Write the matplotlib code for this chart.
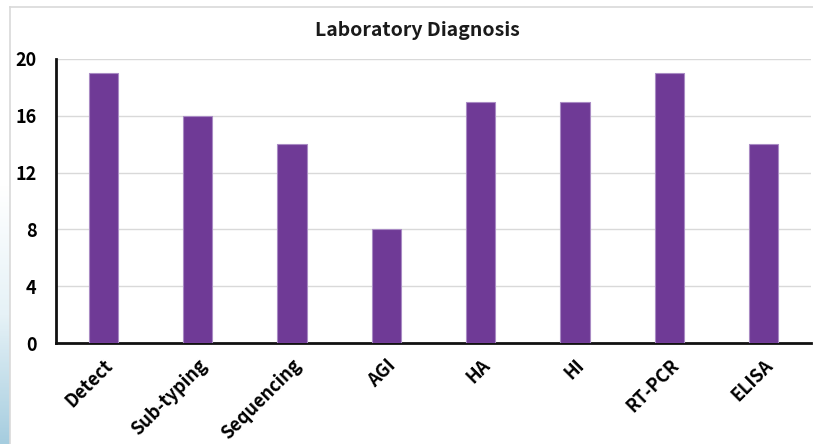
import numpy as np
import matplotlib
matplotlib.use("Agg")
import matplotlib.pyplot as plt

plt.rcParams['font.family'] = ['Noto Sans CJK JP', 'DejaVu Sans']

# Number of labs using each diagnostic method
methods = ['Detect', 'Sub-typing', 'Sequencing', 'AGI', 'HA', 'HI', 'RT-PCR', 'ELISA']
counts = [19, 16, 14, 8, 17, 17, 19, 14]
y_ticks = [0, 4, 8, 12, 16, 20]

fig = plt.figure(figsize=(8.13, 4.44), dpi=100)
fig.patch.set_facecolor('white')

# light blue strip on the far left
strip = fig.add_axes([0, 0, 10 / 813, 1])
grad = np.linspace(0, 1, 256).reshape(-1, 1)
grad = np.clip((grad - 0.42) / 0.58, 0, 1)
cmap = matplotlib.colors.LinearSegmentedColormap.from_list('strip', ['#ffffff', '#e6f2f7', '#a6cddf'])
strip.imshow(grad, aspect='auto', cmap=cmap, origin='upper', extent=[0, 1, 0, 1])
strip.axis('off')

# white chart area with a thin grey frame
frame = fig.add_axes([10 / 813, -0.01, 1.0, 1 - 7 / 444 + 0.01])
frame.set_xticks([])
frame.set_yticks([])
for s in frame.spines.values():
    s.set_color('#d9d9d9')
    s.set_linewidth(1.2)

ax = fig.add_axes([56 / 813, 1 - 343 / 444, (811 - 56) / 813, (343 - 59) / 444])
ax.set_facecolor('white')
x = np.arange(len(methods))
ax.bar(x, counts, width=0.31, color='#6f3a96', edgecolor='#a98bc4', linewidth=0.8, zorder=3)

ax.set_xlim(-0.5, len(methods) - 0.5)
ax.set_ylim(0, 20)
ax.set_yticks(y_ticks)
ax.set_yticklabels([str(t) for t in y_ticks], fontsize=13, fontweight='bold')
ax.set_xticks(x)
ax.set_xticklabels(methods, rotation=45, ha='right', rotation_mode='anchor',
                   fontsize=13, fontweight='bold')
ax.tick_params(axis='y', length=0, pad=14)
ax.tick_params(axis='x', length=0, pad=9)
ax.grid(axis='y', color='#d9d9d9', linewidth=1, zorder=0)

for side in ['top', 'right']:
    ax.spines[side].set_visible(False)
ax.spines['left'].set_linewidth(2)
ax.spines['bottom'].set_linewidth(2)
ax.spines['left'].set_color('#111111')
ax.spines['bottom'].set_color('#111111')

fig.text(417 / 813, 1 - 30 / 444, 'Laboratory Diagnosis', ha='center', va='center',
         fontsize=14, fontweight='bold', color='#1a1a1a')

fig.savefig('out.png', dpi=100)
